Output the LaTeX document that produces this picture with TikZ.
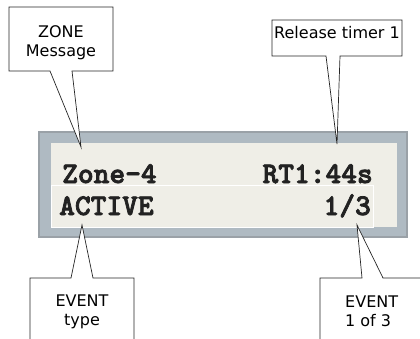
\documentclass[tikz,border=0pt]{standalone}
\usepackage{fontspec}
\newfontfamily\labelfont{DejaVu Sans}
\newfontfamily\lcdfont{lmmonolt10-bold.otf}[FakeBold=2.5]
\definecolor{LCDframe}{HTML}{AFBAC2}
\definecolor{LCDedge}{HTML}{9AA1A7}
\definecolor{LCDpanel}{HTML}{EFEEE7}
\definecolor{LCDtext}{HTML}{222222}
\usetikzlibrary{positioning}

\begin{document}
\begin{tikzpicture}[x=1pt, y=-1pt,
   callout/.style={fill=white, draw=black!85, line width=0.7pt, line join=miter},
   lcdtext/.style={inner sep=0pt, text=LCDtext, font=\fontsize{30}{36}\selectfont\lcdfont},
   tagtext/.style={inner sep=0pt, align=center, font=\fontsize{16}{19}\selectfont\labelfont}]
            \clip (0,0) rectangle (420,339);
            % Display frame
            \filldraw[fill=LCDframe, draw=LCDedge, line width=1.5pt] (39,132) rectangle (407,237);
            \fill[LCDpanel] (51,143) rectangle (397,227);
            \draw[white, line width=0.8pt] (51,185) rectangle (373,227);
            % Display lines
            \node[lcdtext, anchor=base west] (zone) at (62,183) {Zone-4};
            \node[lcdtext, anchor=base east] (timer) at (373,183) {RT1:44s};
            \node[lcdtext, anchor=base west] (event) at (59,215) {ACTIVE};
            \node[lcdtext, anchor=base east] (count) at (371,215) {1/3};
            % Pointer tips
            \coordinate (zone tip) at (81,147);
            \coordinate (timer tip) at (337,144);
            \coordinate (event tip) at (82,225);
            \coordinate (count tip) at (357,225);
            % Callouts
            \draw[callout] (50,71) -- (9,71) -- (9,7) -- (113,7) -- (113,71) -- (72,71) -- (zone tip) -- cycle;
            \draw[callout] (326,56) -- (272,56) -- (272,20) -- (402,20) -- (402,56) -- (340,56) -- (timer tip) -- cycle;
            \draw[callout] (71,278) -- (30,278) -- (30,350) -- (134,350) -- (134,278) -- (93,278) -- (event tip) -- cycle;
            \draw[callout] (362,278) -- (320,278) -- (320,350) -- (430,350) -- (430,278) -- (383,278) -- (count tip) -- cycle;
            % Callout texts (base = last line)
            \node[tagtext, anchor=base] (zone tag) at (61,57) {ZONE\\Message};
            \node[tagtext, anchor=base] (timer tag) at (337,39) {Release timer 1};
            \node[tagtext, anchor=base] (event tag) at (82,325) {EVENT\\type};
            \node[tagtext, align=left, anchor=base west] (count tag) at (345,326) {EVENT\\1 of 3};
         \end{tikzpicture}
\end{document}
